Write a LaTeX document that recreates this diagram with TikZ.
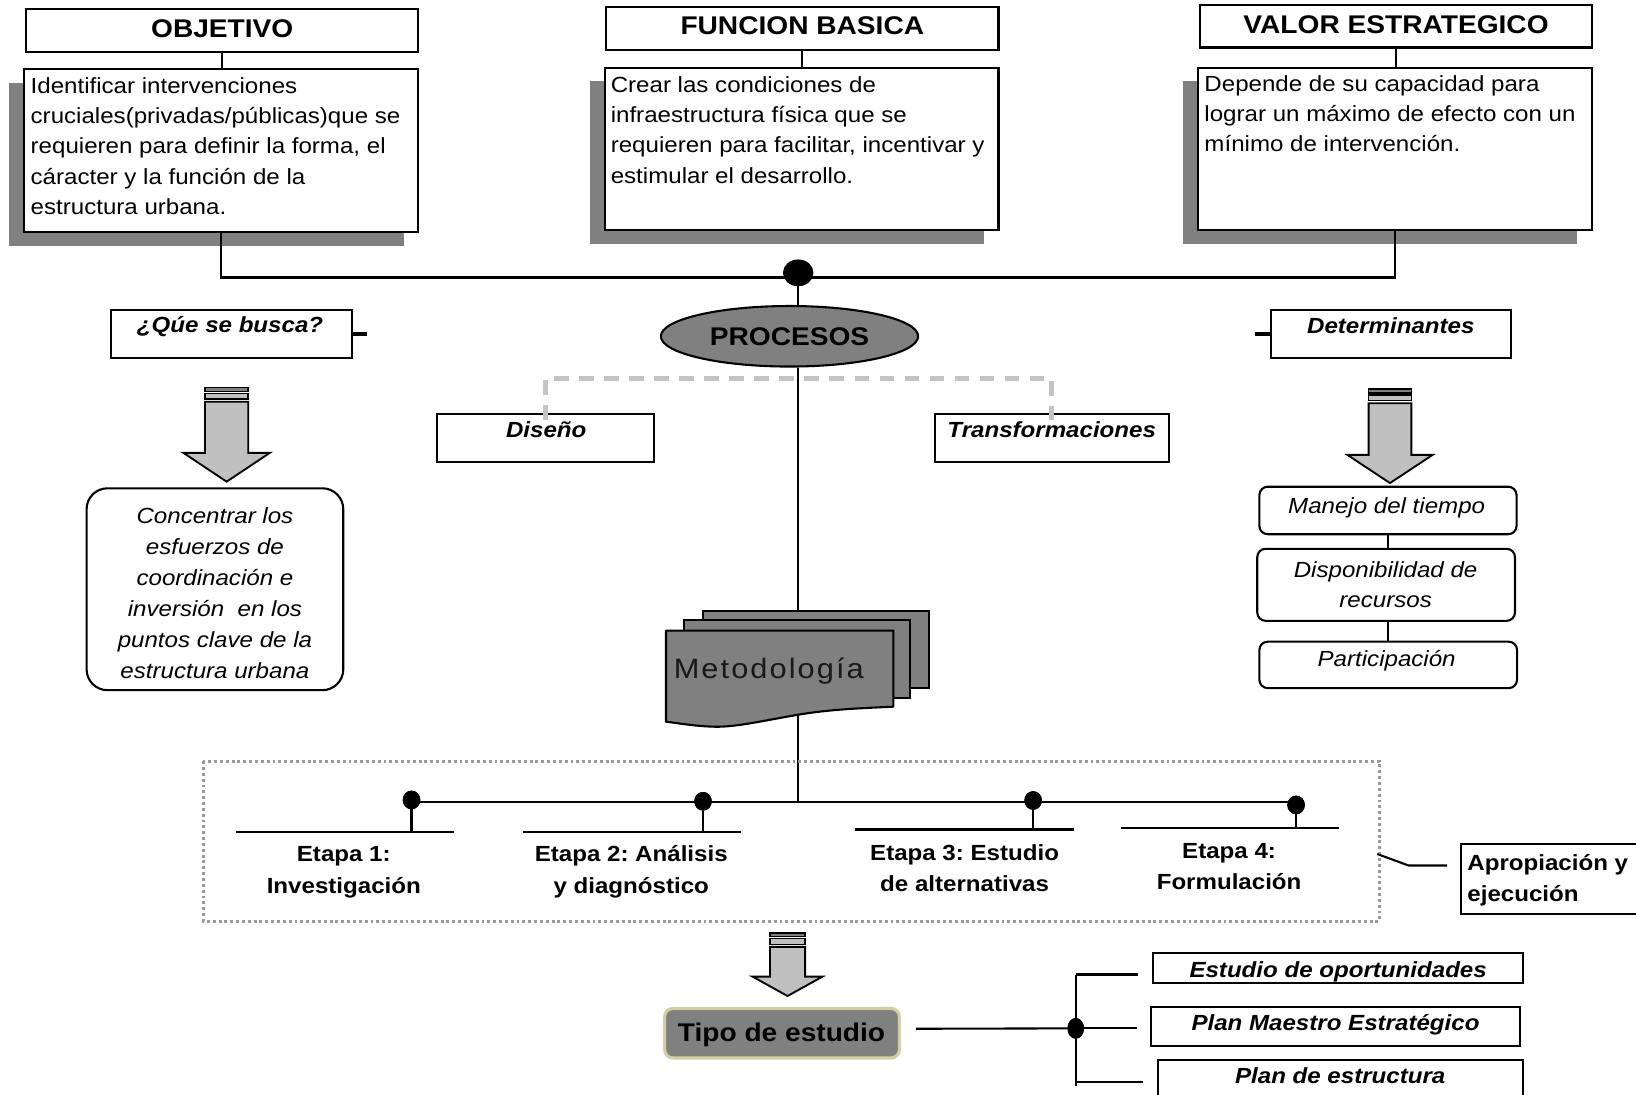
\documentclass[tikz,border=0pt]{standalone}
\usepackage{fontspec}
\setmainfont{Liberation Sans}[FakeStretch=1.1]
\newfontfamily\metfamily{Liberation Sans}[FakeStretch=1.1,LetterSpace=7.4]
\usetikzlibrary{fit,shapes.geometric,calc}
\frenchspacing
\definecolor{shad}{HTML}{808080}
\definecolor{arrfill}{HTML}{C0C0C0}
\definecolor{dashgray}{HTML}{C4C4C4}
\definecolor{dotgray}{HTML}{999999}
\definecolor{tipoborder}{HTML}{D0D0A4}
\newcommand\fbodytxt{\fontsize{10.5}{14.5}\selectfont}
\newcommand\fhdrtxt{\fontsize{12.25}{14}\selectfont\bfseries}
\newcommand\fstagetxt{\fontsize{10.5}{15}\selectfont\bfseries}
\newcommand\fmettxt{\metfamily\fontsize{13.4}{16}\selectfont}
\newcommand\tstrut{\rule{0pt}{12pt}}
% #1 cx, #2 top of stripes, #3 shaft half width, #4 head half width, #5 head base y, #6 tip y
\newcommand\myblockarrow[6]{%
  \filldraw[fill=shad, line width=0.7pt] (#1-#3,#2) rectangle (#1+#3,#2+3.5);
  \filldraw[fill=arrfill, line width=0.7pt] (#1-#3,#2+5.5) rectangle (#1+#3,#2+11);
  \filldraw[fill=arrfill, line width=0.9pt, line join=miter]
    (#1-#3,#2+13.5) -- (#1-#3,#5) -- (#1-#4,#5) -- (#1,#6) -- (#1+#4,#5)
    -- (#1+#3,#5) -- (#1+#3,#2+13.5) -- cycle;}
\begin{document}
\frenchspacing
\begin{tikzpicture}[x=0.5pt,y=-0.5pt,
  conn/.style={line width=1pt},
  boxst/.style={draw, line width=1pt, fill=white, inner sep=0pt, rectangle},
  rboxst/.style={boxst, rounded corners=4pt},
  dotst/.style={ellipse, fill=black, draw=black, inner sep=0pt},
  hdrtxt/.style={anchor=base, inner sep=0pt, font=\fhdrtxt},
  bodytxt/.style={anchor=north west, inner sep=0pt, align=left, font=\fbodytxt},
  itxt/.style={anchor=base, inner sep=0pt, font=\fbodytxt\itshape},
  bitxt/.style={anchor=base, inner sep=0pt, font=\fbodytxt\bfseries\itshape},
  stagetxt/.style={anchor=north, inner sep=0pt, align=center, font=\fstagetxt},
  dashst/.style={draw=dashgray, line width=2.2pt, dash pattern=on 7pt off 5pt},
  dotbox/.style={draw=dotgray, line width=1.3pt, dash pattern=on 1.4pt off 1.4pt},
  tick/.style={line width=1.8pt},
]
\clip (0,0) rectangle (1568,1049);
\fill[white] (0,0) rectangle (1568,1049);

% ---------- top row ----------
\fill[shad] (9,80) rectangle (387,236);
\fill[shad] (565.5,78) rectangle (943,233.5);
\fill[shad] (1134,78) rectangle (1511.5,233.5);

\node[boxst, fit={(25,9) (401,49.5)}] (obj) {};
\node[boxst, fit={(23,66.5) (401,222)}] (objt) {};
\node[boxst, fit={(581,7) (957,48)}] (fun) {};
\node[boxst, fit={(579.5,65) (957,220.5)}] (funt) {};
\node[boxst, fit={(1150,5) (1526,45.5)}] (val) {};
\node[boxst, fit={(1148,65) (1526,220.5)}] (valt) {};

\node[hdrtxt] (objl) at (213,35.5) {OBJETIVO};
\node[hdrtxt] (funl) at (769,33.5) {FUNCION BASICA};
\node[hdrtxt] (vall) at (1338,32) {VALOR ESTRATEGICO};

\node[bodytxt] (objtx) at (29,65) {\tstrut Identificar intervenciones\\cruciales(privadas/públicas)que se\\requieren para definir la forma, el\\cáracter y la función de la\\estructura urbana.};
\node[bodytxt] (funtx) at (585,64) {\tstrut Crear las condiciones de\\infraestructura física que se\\requieren para facilitar, incentivar y\\estimular el desarrollo.};
\node[bodytxt] (valtx) at (1154,63) {\tstrut Depende de su capacidad para\\lograr un máximo de efecto con un\\mínimo de intervención.};

\draw[conn] (obj.south) -- (obj.south |- objt.north);
\draw[conn] (fun.south) -- (fun.south |- funt.north);
\draw[conn] (val.south) -- (val.south |- valt.north);
\coordinate (bar) at (765,266);
\draw[conn] (objt.south) |- (bar) -| (valt.south);

\node[dotst, minimum width=14.2pt, minimum height=12.4pt] (hub) at (765,261.5) {};

% ---------- procesos ----------
\node[ellipse, draw, fill=shad, line width=1pt, inner sep=0pt,
      minimum width=123.3pt, minimum height=29pt, font=\fhdrtxt] (proc) at (756.7,322.3) {PROCESOS};
\draw[conn] (hub) -- (proc.north -| hub);
\coordinate (bar2) at (765,769);
\draw[conn] (proc.south -| hub) -- (bar2);

\node[boxst, fit={(419,396.5) (627,442.5)}] (dis) {};
\node[boxst, fit={(896,396.5) (1120,442.5)}] (tra) {};
\node[bitxt] (disl) at (523.5,419) {Diseño};
\node[bitxt] (tral) at (1008,419) {Transformaciones};
\coordinate (brk) at (765,362.5);
\draw[dashst] ([yshift=-3.5pt]dis.north) |- (brk) -| ([yshift=-3.5pt]tra.north);

% ---------- left column ----------
\node[boxst, fit={(106.5,297) (337,343)}] (que) {};
\node[bitxt] (quel) at (220.5,319) {¿Qúe se busca?};
\draw[tick] (que.east) -- ++(14,0);
\myblockarrow{217.2}{371.5}{20.7}{41.5}{434}{461.6}
\node[boxst, rounded corners=10pt, fit={(83,468) (329,661.5)}] (conc) {};
\node[anchor=north, inner sep=0pt, align=center, font=\fontsize{10.5}{14.85}\selectfont\itshape] (conctx) at (206,477.6)
  {\tstrut Concentrar los\\esfuerzos de\\coordinación e\\inversión\ \ en los\\puntos clave de la\\estructura urbana};

% ---------- right column ----------
\node[boxst, fit={(1218,297) (1448.5,343)}] (det) {};
\node[bitxt] (detl) at (1333,319.5) {Determinantes};
\draw[tick] (det.west) -- ++(-14,0);
\myblockarrow{1332.2}{373}{20.5}{40.8}{436}{463}
\node[rboxst, fit={(1207,466.5) (1453.5,512)}] (man) {};
\node[rboxst, fit={(1205,526) (1452,595)}] (disp) {};
\node[rboxst, fit={(1207,615) (1454,659.5)}] (par) {};
\draw[conn] (man.south) -- (man.south |- disp.north);
\draw[conn] (man.south |- disp.south) -- (man.south |- par.north);
\node[itxt] (manl) at (1329,492.6) {Manejo del tiempo};
\node[anchor=north, inner sep=0pt, align=center, font=\fbodytxt\itshape] (displ) at (1328,528.7) {\tstrut Disponibilidad de\\recursos};
\node[itxt] (parl) at (1329,639) {Participación};

% ---------- metodologia ----------
\filldraw[fill=shad, line width=1pt] (673.4,585.3) rectangle (890.7,659.7);
\filldraw[fill=shad, line width=1pt] (655.9,594.2) rectangle (872.2,669.3);
\filldraw[fill=shad, line width=1pt, line join=round] (638.3,604.4) -- (856.2,604.4) -- (856.2,677.3)
  .. controls (820,679) and (795,680) .. (765,685)
  .. controls (730,691) and (705,697) .. (685,696.5)
  .. controls (665,696) and (650,693) .. (638.3,691.7) -- cycle;
\node[anchor=base west, inner sep=0pt, font=\fmettxt, text=black!90] (met) at (645.4,650.1) {Metodología};

% ---------- etapas ----------
\draw[dotbox] (195,729.5) rectangle (1322,883);
\node[dotst, minimum width=8pt, minimum height=8.5pt] (d1) at (394.4,766.7) {};
\node[dotst, minimum width=8pt, minimum height=8.5pt] (d2) at (673.8,768) {};
\node[dotst, minimum width=8pt, minimum height=8.5pt] (d3) at (990.2,767.2) {};
\node[dotst, minimum width=8pt, minimum height=8.5pt] (d4) at (1242.2,771.5) {};
\draw[conn] (d1 |- bar2) -- (d4 |- bar2);
\coordinate (t1a) at (226,797); \coordinate (t1b) at (435,797);
\coordinate (t2a) at (501,797); \coordinate (t2b) at (710,797);
\coordinate (t3a) at (819.5,795); \coordinate (t3b) at (1029.3,795);
\coordinate (t4a) at (1074,793.5); \coordinate (t4b) at (1283,793.5);
\draw[conn] (t1a) -- (t1b); \draw[conn] (d1) -- (d1 |- t1a);
\draw[conn] (t2a) -- (t2b); \draw[conn] (d2) -- (d2 |- t2a);
\draw[conn] (t3a) -- (t3b); \draw[conn] (d3) -- (d3 |- t3a);
\draw[conn] (t4a) -- (t4b); \draw[conn] (d4) -- (d4 |- t4a);
\node[dotst, minimum width=8pt, minimum height=8.5pt] at (d1) {};
\node[dotst, minimum width=8pt, minimum height=8.5pt] at (d2) {};
\node[dotst, minimum width=8pt, minimum height=8.5pt] at (d3) {};
\node[dotst, minimum width=8pt, minimum height=8.5pt] at (d4) {};
\node[stagetxt] (e1) at (329.5,801.5) {\tstrut Etapa 1:\\Investigación};
\node[stagetxt] (e2) at (605,801.5) {\tstrut Etapa 2: Análisis\\y diagnóstico};
\node[stagetxt] (e3) at (924.5,800.5) {\tstrut Etapa 3: Estudio\\de alternativas};
\node[stagetxt] (e4) at (1178,798.5) {\tstrut Etapa 4:\\Formulación};

\node[boxst, fit={(1400,809) (1600,876)}] (apr) {};
\node[anchor=north west, inner sep=0pt, align=left, font=\fstagetxt] (aprl) at (1406,810)
  {\tstrut Apropiación y\\ejecución};
\coordinate (apA) at (1320,818.5);
\coordinate (apB) at (1350,829.5);
\coordinate (apC) at (1387,829.5);
\draw[conn] (apA) -- (apB) -- (apC);

% ---------- tipo de estudio ----------
\myblockarrow{754.8}{894}{16.8}{33.5}{936}{954.6}
\node[draw=tipoborder, fill=shad, line width=1.5pt, rounded corners=4pt, inner sep=0pt,
      fit={(637,966.5) (862,1014)}] (tipo) {};
\node[hdrtxt] (tipol) at (749,998) {Tipo de estudio};
\coordinate (tipoend) at (878,986);
\node[dotst, minimum width=7.5pt, minimum height=9.5pt] (br) at (1031,985.6) {};
\draw[conn] (tipoend) -- (br);
\coordinate (brtop) at (1031,934);
\coordinate (brbot) at (1031,1041);
\draw[conn] (brtop) -- (brbot);
\coordinate (b1) at (1091,934);
\coordinate (b2) at (1090,985.6);
\coordinate (b3) at (1095,1037.3);
\draw[conn] (brtop) -- (b1);
\draw[conn] (br) -- (b2);
\draw[conn] (brtop |- b3) -- (b3);
\node[dotst, minimum width=7.5pt, minimum height=9.5pt] at (br) {};

\node[boxst, fit={(1105.4,913.7) (1459.7,942.4)}] (eo) {};
\node[boxst, fit={(1103.5,964.8) (1456.8,1002.5)}] (pm) {};
\node[boxst, fit={(1109.6,1016) (1459.7,1070)}] (pe) {};
\node[bitxt] (eol) at (1282.5,936.5) {Estudio de oportunidades};
\node[bitxt] (pml) at (1280,987.5) {Plan Maestro Estratégico};
\node[bitxt] (pel) at (1284.5,1038.5) {Plan de estructura};
\end{tikzpicture}
\end{document}
